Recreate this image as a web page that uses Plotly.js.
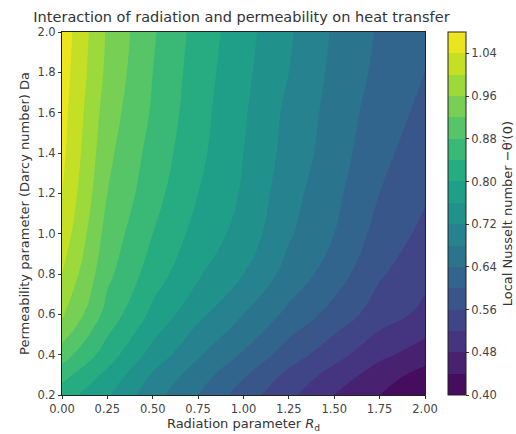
<!DOCTYPE html>
<html>
<head>
<meta charset="utf-8">
<script src="https://cdn.plot.ly/plotly-3.0.1.min.js"></script>
<style>html,body{margin:0;padding:0;background:#fff;}#chart{width:516px;height:434px;}</style>
</head>
<body>
<div id="chart"></div>
<script>
// Radiation parameter Rd (x) and Darcy number Da (y)
const rdValues = [0, 0.25, 0.5, 0.75, 1.0, 1.25, 1.5, 1.75, 2.0];
const daValues = [0.2, 0.3, 0.4, 0.6, 0.8, 1.0, 1.2, 1.4, 1.6, 1.8, 2.0];
// Local Nusselt number, one row per Da value
const nu_da020 = [0.82, 0.765, 0.695, 0.64, 0.58, 0.53, 0.48, 0.44, 0.405];
const nu_da030 = [0.855, 0.79, 0.715, 0.66, 0.605, 0.55, 0.505, 0.46, 0.425];
const nu_da040 = [0.90, 0.82, 0.745, 0.685, 0.635, 0.58, 0.535, 0.49, 0.46];
const nu_da060 = [0.97, 0.865, 0.79, 0.73, 0.68, 0.63, 0.585, 0.54, 0.51];
const nu_da080 = [1.0, 0.89, 0.82, 0.765, 0.72, 0.665, 0.62, 0.565, 0.53];
const nu_da100 = [1.025, 0.905, 0.84, 0.785, 0.745, 0.685, 0.64, 0.585, 0.55];
const nu_da120 = [1.04, 0.92, 0.855, 0.80, 0.755, 0.695, 0.65, 0.60, 0.565];
const nu_da140 = [1.05, 0.93, 0.865, 0.81, 0.76, 0.705, 0.66, 0.61, 0.58];
const nu_da160 = [1.055, 0.94, 0.875, 0.815, 0.765, 0.71, 0.665, 0.62, 0.59];
const nu_da180 = [1.06, 0.95, 0.88, 0.82, 0.77, 0.72, 0.67, 0.63, 0.60];
const nu_da200 = [1.065, 0.955, 0.885, 0.825, 0.775, 0.725, 0.675, 0.635, 0.605];
const xTicks = [0, 0.25, 0.5, 0.75, 1.0, 1.25, 1.5, 1.75, 2.0];
const yTicks = [0.2, 0.4, 0.6, 0.8, 1.0, 1.2, 1.4, 1.6, 1.8, 2.0];
const cbTicks = [0.40, 0.48, 0.56, 0.64, 0.72, 0.80, 0.88, 0.96, 1.04];

const zGrid = [nu_da020, nu_da030, nu_da040, nu_da060, nu_da080, nu_da100,
               nu_da120, nu_da140, nu_da160, nu_da180, nu_da200];

const FAM = 'DejaVu Sans, sans-serif';
const tickFont = {family: FAM, size: 11.5, color: '#444'};
const labelFont = {family: FAM, size: 13, color: '#333'};

const trace = {
  type: 'contour',
  x: rdValues,
  y: daValues,
  z: zGrid,
  colorscale: 'Viridis',
  zmin: 0.40, zmax: 1.08,
  autocontour: false,
  contours: {start: 0.40, end: 1.08, size: 0.04, coloring: 'fill', showlines: false},
  line: {width: 0, smoothing: 1.3},
  colorbar: {
    x: 1.063, xanchor: 'left', xref: 'paper',
    y: 0.5, yanchor: 'middle', len: 1, lenmode: 'fraction',
    thickness: 18, thicknessmode: 'pixels', xpad: 0, ypad: 0,
    outlinewidth: 1, outlinecolor: '#222',
    ticks: 'outside', ticklen: 3, tickcolor: '#333',
    tickvals: cbTicks, ticktext: cbTicks.map(v => v.toFixed(2)),
    tickfont: tickFont
  }
};

const layout = {
  width: 516, height: 434,
  margin: {l: 62, r: 91, t: 32, b: 39, pad: 0, autoexpand: false},
  paper_bgcolor: '#fff', plot_bgcolor: '#fff',
  font: tickFont,
  title: {text: 'Interaction of radiation and permeability on heat transfer',
          font: {family: FAM, size: 14.5, color: '#333'},
          x: 0.468, xanchor: 'center', y: 0.962, yanchor: 'middle'},
  xaxis: {
    range: [0, 2], tickvals: xTicks, ticktext: xTicks.map(v => v.toFixed(2)),
    ticks: 'outside', ticklen: 3, tickcolor: '#333',
    showline: true, linecolor: '#222', mirror: true, showgrid: false, zeroline: false,
    tickfont: tickFont,
    title: {text: 'Radiation parameter <i>R</i><sub>d</sub>', font: labelFont, standoff: 2}
  },
  yaxis: {
    range: [0.2, 2.0], tickvals: yTicks, ticktext: yTicks.map(v => v.toFixed(1)),
    ticks: 'outside', ticklen: 3, tickcolor: '#333',
    showline: true, linecolor: '#222', mirror: true, showgrid: false, zeroline: false,
    tickfont: tickFont,
    title: {text: 'Permeability parameter (Darcy number) Da', font: labelFont, standoff: 4}
  },
  annotations: [{
    text: "Local Nusselt number −θ′(0)",
    xref: 'paper', yref: 'paper', x: 1.228, y: 0.5,
    xanchor: 'center', yanchor: 'middle', textangle: -90, showarrow: false,
    font: labelFont
  }]
};

Plotly.newPlot('chart', [trace], layout, {displayModeBar: false, staticPlot: true});
</script>
</body>
</html>
